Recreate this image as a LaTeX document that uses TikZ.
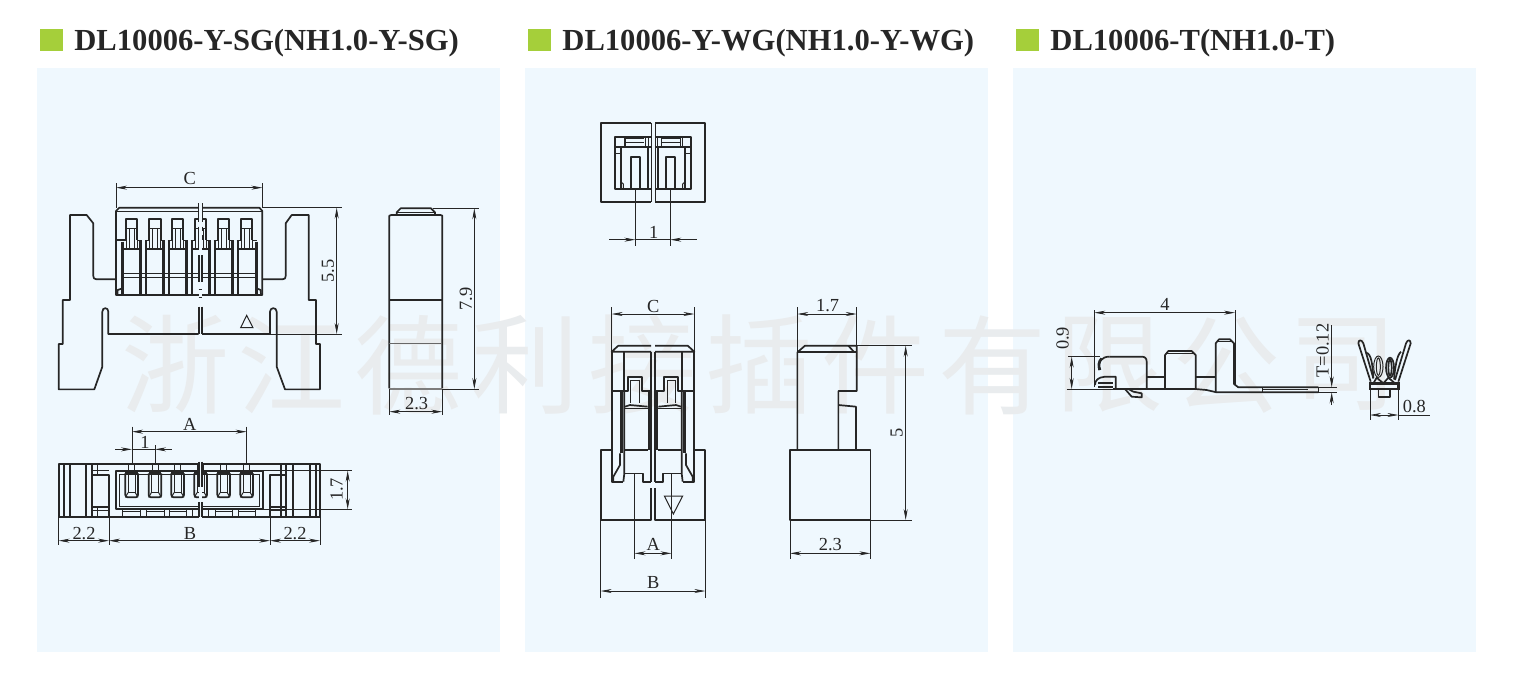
\documentclass[tikz,border=0pt]{standalone}
\usepackage{fontspec}
\setmainfont{Liberation Serif}
\newfontfamily\cjkwm{Noto Sans CJK SC}
\usetikzlibrary{arrows.meta}
\definecolor{panelbg}{HTML}{EFF8FE}
\definecolor{greenbox}{HTML}{A5CF3A}
\definecolor{inkc}{HTML}{262626}
\definecolor{wmark}{HTML}{E9ECEE}
\tikzset{
  zoomat/.style 2 args={shift={(#1*0.5pt,-#2*0.5pt)},x=0.16667pt,y=-0.16667pt},
  ol/.style={draw=inkc,line width=0.85pt,line join=round},
  olb/.style={draw=inkc,line width=1.3pt},
  ols/.style={draw=inkc,line width=0.5pt},
  dimln/.style={draw=inkc,line width=0.35pt},
  dimar/.style={draw=inkc,line width=0.35pt,-{Stealth[length=5.5pt,width=2pt]}},
  dimbi/.style={draw=inkc,line width=0.35pt,{Stealth[length=5.5pt,width=2pt]}-{Stealth[length=5.5pt,width=2pt]}},
  lab/.style={inner sep=0pt,text=inkc,font=\fontsize{9.2}{10}\selectfont},
  ttl/.style={inner sep=0pt,anchor=west,text=black!85,font=\fontsize{15.3}{16}\selectfont\bfseries},
  wm/.style={inner sep=0pt,text=wmark,font=\cjkwm\fontsize{54}{54}\selectfont},
}
\begin{document}
\begin{tikzpicture}[x=0.5pt,y=-0.5pt]
\useasboundingbox (0,0) rectangle (1515,692);
\fill[white] (0,0) rectangle (1515,692);
% panels
\fill[panelbg] (37,68) rectangle (500,652);
\fill[panelbg] (525,68) rectangle (988,652);
\fill[panelbg] (1013,68) rectangle (1476,652);
% titles
\fill[greenbox] (40,29) rectangle (63,51);
\fill[greenbox] (528,29) rectangle (551,51);
\fill[greenbox] (1016,29) rectangle (1039,51);
\node[ttl] (t1) at (74,43) {DL10006-Y-SG(NH1.0-Y-SG)};
\node[ttl] (t2) at (562,43) {DL10006-Y-WG(NH1.0-Y-WG)};
\node[ttl] (t3) at (1050,43) {DL10006-T(NH1.0-T)};
% watermark
\foreach \ch [count=\i from 0] in {浙,江,德,利,接,插,件,有,限,公,司}
  \node[wm] (w\i) at ({175+116.8*\i},365) {\ch};

% ---------- Front view, panel 1
\begin{scope}[zoomat={40}{160}]
  % arms
  \draw[ol] (228,358)--(170,358)..controls (162,358) and (160,354)..(160,348)--(160,190)--(140,165)--(90,165)--(90,420)--(68,420)--(68,552)--(56,552)--(56,688)--(163,688)--(187,620)--(187,455)..controls (187,441) and (205,441)..(205,455)--(205,522)--(476,522);
  \draw[ol] (667,358)--(727,358)..controls (735,358) and (737,354)..(737,348)--(737,190)--(755,165)--(806,165)--(806,420)--(828,420)--(828,552)--(840,552)--(840,688)--(735,688)--(710,620)--(710,455)..controls (710,441) and (690,441)..(690,455)--(690,522)--(486,522);
  % body
  \draw[ol] (228,405)--(228,153)--(238,143)--(658,143)--(667,153)--(667,405)--cycle;
  \draw[ols] (228,155)--(667,155);
  \draw[ols] (247,340)--(650,340);
  \draw[ols] (247,352)--(650,352);
  \draw[ol] (232,240)--(258,240);
  \foreach \c in {275,345,413,482,551,620}{
    \draw[ol] (\c-17,240)--(\c-17,178)--(\c+17,178)--(\c+17,240);
    \draw[ols] (\c-17,206)--(\c+17,206);
    \draw[ols] (\c-8,206)--(\c-8,265);
    \draw[ols] (\c+8,206)--(\c+8,265);
    \draw[ols] (\c-17,240)--(\c-17,265);
    \draw[ols] (\c+17,240)--(\c+17,265);
    \draw[ols] (\c-30,240)--(\c-17,240);
    \draw[ols] (\c+17,240)--(\c+30,240);
    \draw[ol] (\c-28,266)--(\c+28,266);
  }
  \foreach \c in {310,379,448,517,586}{
    \draw[olb] (\c-8,240)--(\c-8,405);
    \draw[olb] (\c+8,240)--(\c+8,405);
  }
  \draw[olb] (247,245)--(247,405);
  \draw[olb] (650,245)--(650,405);
  \draw[ol] (232,405)--(233,390)--(247,385);
  \draw[ol] (663,405)--(662,390)--(650,385);
  % centre break
  \fill[panelbg] (476,128) rectangle (486,528);
  \draw[ols] (476,130)--(476,185);
  \draw[ols] (486,130)--(486,185);
  \foreach \yy in {200,225}{\draw[ols] (476,\yy)--(476,\yy+14);\draw[ols] (486,\yy)--(486,\yy+14);}
  \draw[ol] (476,285)--(476,365);
  \draw[ol] (486,285)--(486,365);
  \draw[ols] (476,388)--(486,388);\draw[ols] (476,412)--(486,412);
  \draw[ol] (476,440)--(476,522);
  \draw[ol] (486,440)--(486,522);
  % triangle
  \draw[ols] (620,466)--(639,503)--(602,503)--cycle;
  % dims
  \draw[dimbi] (228,83)--(667,83);
  \draw[dimln] (228,70)--(228,143);
  \draw[dimln] (667,70)--(667,143);
  \node[lab] (c1) at (449,55) {C};
  \draw[dimln] (667,143)--(905,143);
  \draw[dimln] (690,522)--(905,522);
  \draw[dimbi] (890,143)--(890,522);
  \node[lab,rotate=90] (d55) at (864,333) {5.5};
\end{scope}

% ---------- Bottom view, panel 1
\begin{scope}[zoomat={40}{410}]
  \draw[ol] (56,162) rectangle (840,320);
  \foreach \xx in {72,90,138,157,722,738,758,810,828}{\draw[ol] (\xx,162)--(\xx,320);}
  \draw[ols] (173,162)--(173,196);\draw[ols] (173,290)--(173,320);
  \draw[ols] (157,180)--(207,180);\draw[ols] (157,300)--(207,300);
  \draw[ol] (157,196)--(207,196)--(207,320);
  \draw[ol] (157,290)--(207,290);
  \draw[ol] (738,196)--(690,196)--(690,320);
  \draw[ol] (738,290)--(690,290);
  \draw[ols] (690,182)--(738,182);\draw[ols] (690,300)--(738,300);
  \draw[ol] (228,182) rectangle (668,298);
  \draw[ols] (238,192) rectangle (658,290);
  \foreach \c in {275,345,413,482,551,620}{
    \draw[ol,rounded corners=1.2pt] (\c-19,190)--(\c-19,262)--(\c+19,262)--(\c+19,190);
    \draw[ols] (\c-11,190)--(\c-11,248)--(\c+11,248)--(\c+11,190);
    \draw[ols] (\c-19,262)--(\c-11,248);\draw[ols] (\c+19,262)--(\c+11,248);
    \draw[ols] (\c-9,162)--(\c-9,190);
    \draw[ols] (\c+9,162)--(\c+9,190);
    \draw[ol] (\c-19,190)--(\c+19,190);
  }
  \foreach \xx in {248,302,318,372,388,440,458,505,525,578,595,645}{\draw[ols] (\xx,298)--(\xx,320);}
  \draw[ols] (248,303)--(302,303);\draw[ols] (318,303)--(372,303);\draw[ols] (388,303)--(440,303);
  \draw[ols] (525,303)--(578,303);\draw[ols] (595,303)--(645,303);
  \fill[panelbg] (476,155) rectangle (486,325);
  \draw[ol] (476,155)--(476,230);\draw[ol] (486,155)--(486,230);
  \draw[ol] (476,276)--(476,322);\draw[ol] (486,276)--(486,322);
  % dims
  \draw[dimbi] (276,65)--(620,65);
  \draw[dimln] (276,50)--(276,165);
  \draw[dimln] (620,50)--(620,165);
  \node[lab] (a1) at (449,42) {A};
  \draw[dimln] (345,105)--(345,165);
  \draw[dimar] (225,118)--(276,118);
  \draw[dimar] (395,118)--(345,118);
  \draw[dimln] (276,118)--(345,118);
  \node[lab] (one1) at (315,97) {1};
  \draw[dimln] (668,182)--(935,182);
  \draw[dimln] (668,298)--(935,298);
  \draw[dimbi] (923,182)--(923,298);
  \node[lab,rotate=90] (d17) at (890,238) {1.7};
  \foreach \xx in {56,207,690,840}{\draw[dimln] (\xx,320)--(\xx,405);}
  \draw[dimbi] (56,392)--(207,392);
  \draw[dimbi] (207,392)--(690,392);
  \draw[dimbi] (690,392)--(840,392);
  \node[lab] (d22a) at (132,370) {2.2};
  \node[lab] (b1) at (450,370) {B};
  \node[lab] (d22b) at (765,370) {2.2};
\end{scope}

% ---------- Side view, panel 1
\begin{scope}[zoomat={380}{195}]
  \draw[ol] (50,60)--(50,52)--(62,40)--(153,40)--(165,52)--(165,60);
  \draw[ols] (50,52)--(165,52);
  \draw[ol] (28,580)--(28,62)--(34,60)--(181,60)--(187,62)--(187,580);
  \draw[ol] (28,315)--(187,315);
  \draw[ols,draw=inkc!70] (28,445)--(187,445);
  \draw[ol,draw=inkc!60] (28,582)--(187,582);
  \draw[dimln] (160,40)--(298,40);
  \draw[dimln] (187,582)--(298,582);
  \draw[dimbi] (283,40)--(283,582);
  \node[lab,rotate=90] (d79) at (258,312) {7.9};
  \draw[dimln] (28,582)--(28,660);
  \draw[dimln] (187,582)--(187,660);
  \draw[dimbi] (28,650)--(187,650);
  \node[lab] (d23a) at (110,626) {2.3};
\end{scope}

% ---------- End view, panel 2
\begin{scope}[zoomat={580}{110}]
  \foreach \m/\o in {1/0,-1/438}{
  \begin{scope}[shift={(\o,0)},xscale=\m]
    \draw[ol] (213,38)--(62,38)--(62,277)--(213,277);
    \draw[ols] (213,38)--(213,277);
    \draw[ol] (213,80)--(104,80)--(104,236)--(213,236);
    \draw[ol] (104,112)--(213,112);
    \draw[ols] (132,80)--(132,112);
    \draw[ol] (136,85)--(192,85);
    \draw[ols] (136,98)--(192,98);
    \draw[ols] (136,108)--(192,108);
    \draw[ols] (136,85)--(136,108);
    \draw[ols] (195,80)--(195,112);
    \draw[ols] (205,80)--(205,112);
    \draw[ol] (122,112)--(122,236);
    \draw[ols] (104,130)--(122,130);
    \draw[ol] (205,112)--(205,236);
    \draw[ol] (153,236)--(153,142)--(180,142)--(180,236);
    \draw[ols] (122,215)--(130,222)--(130,236);
  \end{scope}}
  \draw[dimln] (166,236)--(166,408);
  \draw[dimln] (271,236)--(271,408);
  \draw[dimar] (88,389)--(166,389);
  \draw[dimar] (350,389)--(271,389);
  \draw[dimln] (166,389)--(271,389);
  \node[lab] (one2) at (221,366) {1};
\end{scope}

% ---------- Front view, panel 2
\begin{scope}[zoomat={585}{290}]
  \foreach \m/\o in {1/0,-1/408}{
  \begin{scope}[shift={(\o,0)},xscale=\m]
    \draw[ol] (198,167)--(100,167)--(80,185)--(198,185);
    \draw[ol] (80,185)--(80,575)--(115,575);
    \draw[ol] (117,185)--(117,303);
    \draw[ol] (80,303)--(130,303)--(130,262)--(170,262)--(170,303)--(197,303);
    \draw[ols] (137,270)--(162,270);
    \draw[ols] (137,270)--(137,340);\draw[ols] (162,270)--(162,340);
    \draw[olb] (110,303)--(110,490);
    \draw[ol] (105,490)--(105,525)--(85,560)--(85,575);
    \draw[ol] (118,303)--(118,550)--(115,575);
    \draw[ol] (120,350)--(135,345)--(188,350);
    \draw[ols] (120,356)--(188,356);
    \draw[ol] (118,480)--(190,480);
    \draw[ol] (118,550)--(175,550)--(175,575)--(197,575);
    \draw[olb] (192,303)--(192,480);
    \draw[ol] (197,185)--(197,575);
    \draw[ol] (80,480)--(47,480)--(47,690)--(197,690)--(197,595);
    \draw[ol] (148.5,550)--(148.5,690);
  \end{scope}}
  \draw[ols] (238,618)--(293,618)--(265,672)--cycle;
  % dims
  \draw[dimln] (80,52)--(80,185);
  \draw[dimln] (328,52)--(328,185);
  \draw[dimbi] (80,72)--(328,72);
  \node[lab] (c2) at (205,48) {C};
  \draw[dimln] (148.5,690)--(148.5,808);
  \draw[dimln] (259.5,690)--(259.5,808);
  \draw[dimbi] (148.5,790)--(259.5,790);
  \node[lab] (a2) at (205,762) {A};
  \draw[dimln] (47,690)--(47,925);
  \draw[dimln] (361,690)--(361,925);
  \draw[dimbi] (47,903)--(361,903);
  \node[lab] (b2) at (205,878) {B};
  % ---------- Side view, panel 2
  \draw[ol] (615,480) rectangle (856,690);
  \draw[ol] (637,480)--(637,187)--(660,167)--(815,167)--(815,303)--(760,303)--(760,480);
  \draw[ol] (637,187)--(813,187);
  \draw[ol] (790,167)--(808,187);
  \draw[ol] (760,345)--(813,350)--(813,480);
  \draw[dimln] (637,52)--(637,187);
  \draw[dimln] (815,52)--(815,167);
  \draw[dimbi] (637,72)--(815,72);
  \node[lab] (d17b) at (728,47) {1.7};
  \draw[dimln] (815,167)--(982,167);
  \draw[dimln] (856,690)--(982,690);
  \draw[dimbi] (962,167)--(962,690);
  \node[lab,rotate=90] (d5) at (935,428) {5};
  \draw[dimln] (615,690)--(615,808);
  \draw[dimln] (856,690)--(856,808);
  \draw[dimbi] (615,790)--(856,790);
  \node[lab] (d23b) at (736,763) {2.3};
\end{scope}

% ---------- Terminal, panel 3
\begin{scope}[zoomat={1050}{290}]
  \draw[ol] (178,200)--(275,200)..controls (285,200) and (290,205)..(290,215)--(290,297);
  \draw[ol] (178,200)..controls (155,200) and (143,215)..(147,240);
  \draw[olb] (155,205)..controls (145,215) and (145,228)..(150,240);
  \draw[ol] (135,285)..controls (135,270) and (145,262)..(165,260)--(197,260)--(197,297);
  \draw[ol] (145,290)--(190,290);
  \draw[ol] (145,280)--(190,280);
  \draw[ol] (190,297)--(437,297);
  \draw[ol] (290,262)--(345,262);
  \draw[ol] (345,297)--(345,195)--(355,183)--(425,183)--(437,195)--(437,297);
  \draw[ols] (350,190)--(432,190);
  \draw[ol] (437,262)--(497,262);
  \draw[ol] (437,297)--(470,300)--(500,307)--(805,307);
  \draw[ol] (497,307)--(497,160)--(507,148)--(540,148)--(552,160)--(552,282)--(565,292)--(805,292);
  \draw[ols] (502,155)--(547,155);
  \draw[ol] (637,292)--(637,307);
  \draw[ols] (637,298)--(775,298);
  \draw[ols] (805,292)--(805,307);
  \draw[ol] (225,297)--(245,320)--(275,322)--(275,310)--(250,305)--(235,297);
  % end view
  \draw[olb] (960,280) rectangle (1045,297);
  \draw[ol] (985,297)--(985,320)--(1020,320)--(1020,297);
  \draw[ol] (962,275)--(925,160)..controls (925,148) and (935,148)..(940,160)--(970,265);
  \draw[ol] (1045,275)--(1082,160)..controls (1082,148) and (1072,148)..(1068,160)--(1035,270);
  \draw[ol] (948,188)..controls (965,190) and (968,230)..(970,265);
  \draw[ol] (1053,185)..controls (1040,195) and (1035,235)..(1032,268);
  \draw[ols] (985,230) ellipse [x radius=14,y radius=32];
  \draw[ols] (985,230) ellipse [x radius=6,y radius=26];
  \draw[ol] (1020,233) ellipse [x radius=12,y radius=30];
  \draw[ol] (1020,233) ellipse [x radius=5,y radius=24];
  \draw[ol] (970,280)--(980,263)--(1000,280)--(1015,263)--(1035,280);
  % dims
  \draw[dimln] (133,60)--(133,290);
  \draw[dimln] (555,60)--(555,285);
  \draw[dimbi] (133,68)--(555,68);
  \node[lab] (d4) at (345,42) {4};
  \draw[dimln] (55,200)--(150,200);
  \draw[dimln] (50,297)--(190,297);
  \draw[dimbi] (65,200)--(65,297);
  \node[lab,rotate=90] (d09) at (38,145) {0.9};
  \draw[dimln] (775,292)--(860,292);
  \draw[dimln] (775,307)--(860,307);
  \draw[dimar] (845,105)--(845,292);
  \draw[dimar] (845,345)--(845,307);
  \node[lab,rotate=90] (dT) at (818,182) {T=0.12};
  \draw[dimln] (960,297)--(960,390);
  \draw[dimln] (1045,297)--(1045,390);
  \draw[dimbi] (960,375)--(1045,375);
  \draw[dimln] (1045,375)--(1140,375);
  \node[lab] (d08) at (1093,350) {0.8};
\end{scope}
\end{tikzpicture}
\end{document}
